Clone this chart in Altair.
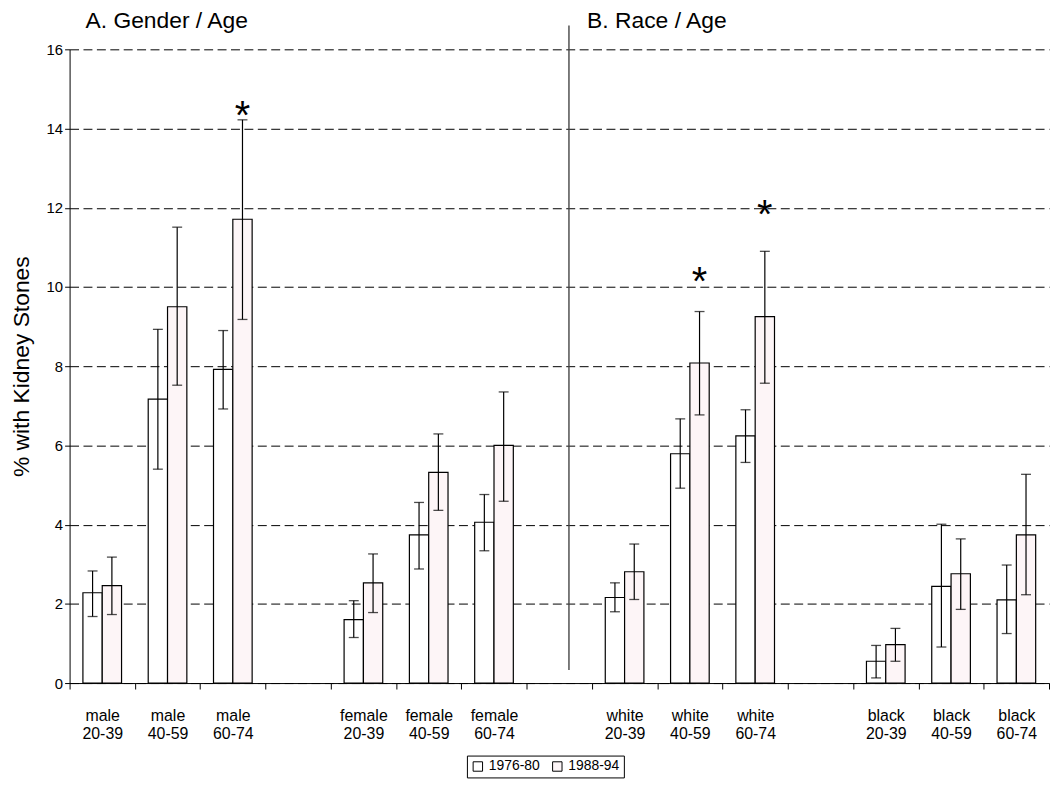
import altair as alt
import pandas as pd

# ---- data ----
slots = ["male|20-39", "male|40-59", "male|60-74", " ",
         "female|20-39", "female|40-59", "female|60-74", "  ",
         "white|20-39", "white|40-59", "white|60-74", "   ",
         "black|20-39", "black|40-59", "black|60-74"]
categories = ["male|20-39", "male|40-59", "male|60-74",
              "female|20-39", "female|40-59", "female|60-74",
              "white|20-39", "white|40-59", "white|60-74",
              "black|20-39", "black|40-59", "black|60-74"]
series = ["1976-80", "1988-94"]
val_7680 = [2.28, 7.17, 7.92, 1.60, 3.74, 4.06, 2.16, 5.79, 6.24, 0.55, 2.44, 2.10]
lo_7680 = [1.68, 5.40, 6.92, 1.15, 2.88, 3.34, 1.80, 4.92, 5.57, 0.13, 0.91, 1.25]
hi_7680 = [2.83, 8.93, 8.90, 2.08, 4.56, 4.76, 2.53, 6.67, 6.90, 0.95, 4.01, 2.98]
val_8894 = [2.46, 9.50, 11.71, 2.53, 5.32, 6.00, 2.81, 8.08, 9.25, 0.97, 2.76, 3.74]
lo_8894 = [1.73, 7.52, 9.18, 1.78, 4.36, 4.59, 2.11, 6.77, 7.57, 0.55, 1.86, 2.23]
hi_8894 = [3.18, 11.51, 14.22, 3.26, 6.29, 7.35, 3.51, 9.38, 10.90, 1.38, 3.64, 5.27]
star_cats = ["male|60-74", "white|40-59", "white|60-74"]
star_vals = [14.6, 10.4, 12.1]
panel_titles = ["A.  Gender / Age", "B.  Race / Age"]

rows = []
for i, c in enumerate(categories):
    rows.append(dict(cat=c, series=series[0], v=val_7680[i], lo=lo_7680[i], hi=hi_7680[i]))
    rows.append(dict(cat=c, series=series[1], v=val_8894[i], lo=lo_8894[i], hi=hi_8894[i]))
df = pd.DataFrame(rows)
stars = pd.DataFrame(dict(cat=star_cats, series=[series[1]] * 3, v=star_vals))
divider = pd.DataFrame(dict(cat=["  "], series=[series[1]], y1=[0.33], y2=[16.6]))
one_row = pd.DataFrame(dict(k=[0]))

FONT = "Liberation Sans"

xscale = alt.Scale(domain=slots, paddingInner=0, paddingOuter=0)
xoff = alt.Scale(domain=series, paddingInner=0, paddingOuter=0.69)
yscale = alt.Scale(domain=[0, 16], nice=False)

x_enc = alt.X("cat:N", scale=xscale, sort=None, axis=alt.Axis(
    title=None, labelExpr="split('' + datum.label, '|')",
    labelAngle=0, labelFontSize=16, labelLineHeight=18, labelPadding=19,
    tickBand="extent", tickSize=6, tickColor="black", domainColor="black",
    labelColor="black", labelFont=FONT))
y_axis = alt.Axis(title="% with Kidney Stones", values=list(range(0, 17, 2)),
                  titleFontSize=23, titleFont=FONT, titleFontWeight="normal",
                  titleColor="black", titlePadding=13,
                  labelFontSize=15, labelFont=FONT, labelColor="black",
                  tickSize=5, tickColor="black", domainColor="black",
                  grid=True, gridColor="black", gridDash=[9, 4.5], gridWidth=1)

base = alt.Chart(df)

bars = base.mark_bar(stroke="black", strokeWidth=1.2).encode(
    x=x_enc,
    xOffset=alt.XOffset("series:N", scale=xoff),
    y=alt.Y("v:Q", scale=yscale, axis=y_axis),
    fill=alt.Fill("series:N", scale=alt.Scale(domain=series, range=["white", "#fdf5f7"]),
                  legend=alt.Legend(title=None, orient="none", legendX=400, legendY=711,
                                    direction="horizontal", strokeColor="black",
                                    padding=4, symbolType="square", symbolSize=90,
                                    symbolStrokeColor="black", symbolStrokeWidth=1,
                                    labelFontSize=14, labelFont=FONT, labelColor="black")),
)

xo = alt.XOffset("series:N", scale=xoff)
xc = alt.X("cat:N", scale=xscale, sort=None)

err = base.mark_rule(color="black", strokeWidth=1.2).encode(
    x=xc, xOffset=xo, y=alt.Y("lo:Q", scale=yscale), y2="hi:Q")
cap_hi = base.mark_tick(color="black", size=10, thickness=1.3).encode(
    x=xc, xOffset=xo, y=alt.Y("hi:Q", scale=yscale))
cap_lo = base.mark_tick(color="black", size=10, thickness=1.3).encode(
    x=xc, xOffset=xo, y=alt.Y("lo:Q", scale=yscale))

star = alt.Chart(stars).mark_text(text="*", fontSize=40, font=FONT, color="black",
                                   fontWeight="normal", baseline="alphabetic", dy=24).encode(
    x=xc, xOffset=xo, y=alt.Y("v:Q", scale=yscale))

div = alt.Chart(divider).mark_rule(color="#444", strokeWidth=1.4, clip=False).encode(
    x=xc, xOffset=xo, y=alt.Y("y1:Q", scale=yscale), y2="y2:Q")

ttl_a = alt.Chart(one_row).mark_text(fontSize=23, font=FONT, color="black", fontWeight="normal",
                                     align="left", baseline="alphabetic").encode(
    x=alt.value(16), y=alt.value(-21), text=alt.value(panel_titles[0]))
ttl_b = alt.Chart(one_row).mark_text(fontSize=23, font=FONT, color="black", fontWeight="normal",
                                     align="left", baseline="alphabetic").encode(
    x=alt.value(521), y=alt.value(-21), text=alt.value(panel_titles[1]))

chart = alt.layer(bars, err, cap_hi, cap_lo, star, div, ttl_a, ttl_b).properties(
    width=986, height=638, padding={"left": 2, "top": 0, "right": 0, "bottom": 0}
).configure_view(stroke="transparent")

chart.save("out.html", embed_options={"renderer": "svg", "actions": False})
